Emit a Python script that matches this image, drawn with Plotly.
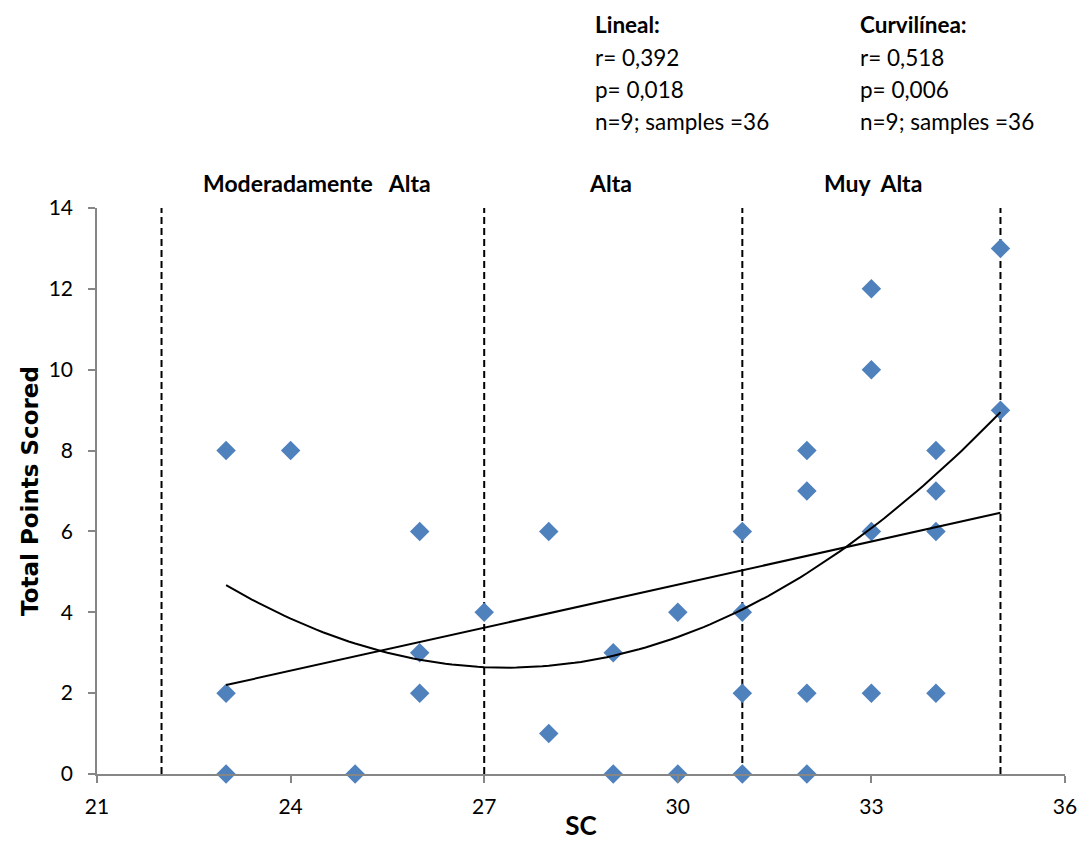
import numpy as np
import plotly.graph_objects as go

# Data
sc_values = [23, 23, 23, 24, 25, 26, 26, 26, 27, 28, 28, 29, 29, 30, 30,
             31, 31, 31, 31, 32, 32, 32, 32, 33, 33, 33, 33, 34, 34, 34, 34, 35, 35]
points_values = [8, 2, 0, 8, 0, 6, 3, 2, 4, 6, 1, 3, 0, 4, 0,
                 6, 4, 2, 0, 8, 7, 2, 0, 12, 10, 6, 2, 8, 7, 6, 2, 13, 9]

zone_bounds = [22, 27, 31, 35]
zone_labels = ["Moderadamente   Alta", "Alta", "Muy  Alta"]
zone_label_x = [24.41, 28.95, 33.02]

# Trend line parameters
linear_ends_x = [23, 35]
linear_ends_y = [2.2, 6.46]
quad_vertex_x = 27.35
quad_vertex_y = 2.63
quad_a = 0.108

lineal_text = ["<b>Lineal:</b>", "r= 0,392", "p= 0,018", "n=9; samples =36"]
curv_text = ["<b>Curvilínea:</b>", "r= 0,518", "p= 0,006", "n=9; samples =36"]

FONT = "Lato"
fig = go.Figure()

for b in zone_bounds:
    fig.add_trace(go.Scatter(x=[b, b], y=[0, 14], mode="lines",
                             line=dict(color="black", width=2, dash="7px,4px"),
                             showlegend=False, hoverinfo="skip"))

fig.add_trace(go.Scatter(x=sc_values, y=points_values, mode="markers",
                         marker=dict(symbol="diamond", size=15, color="#4F81BD"),
                         cliponaxis=False, showlegend=False))

fig.add_trace(go.Scatter(x=linear_ends_x, y=linear_ends_y, mode="lines",
                         line=dict(color="black", width=2), showlegend=False))

qx = np.linspace(linear_ends_x[0], linear_ends_x[1], 121)
qy = quad_vertex_y + quad_a * (qx - quad_vertex_x) ** 2
fig.add_trace(go.Scatter(x=qx, y=qy, mode="lines",
                         line=dict(color="black", width=2), showlegend=False))

PLOT_H = 566.0
TOP_PIX = 774.0
annotations = []
for col_x, lines in ((593, lineal_text), (858, curv_text)):
    for i, t in enumerate(lines):
        py = 25 + i * 32.3
        annotations.append(dict(text=t, xref="paper", yref="paper",
                                x=(col_x - 97) / 968.0, y=(TOP_PIX - py) / PLOT_H,
                                xanchor="left", yanchor="middle", showarrow=False,
                                font=dict(family=FONT, size=22.5, color="black")))
for lx, lt in zip(zone_label_x, zone_labels):
    annotations.append(dict(text="<b>" + lt.replace(" ", "&nbsp;") + "</b>", xref="x", yref="paper",
                            x=lx, y=(TOP_PIX - 183) / PLOT_H,
                            xanchor="center", yanchor="middle", showarrow=False,
                            font=dict(family=FONT, size=23, color="black")))

fig.update_layout(
    width=1080, height=865,
    margin=dict(l=97, r=15, t=208, b=91),
    paper_bgcolor="white", plot_bgcolor="white",
    font=dict(family=FONT, size=21, color="black"),
    annotations=annotations,
    xaxis=dict(range=[21, 36], tick0=21, dtick=3, showgrid=False, zeroline=False,
               showline=True, linecolor="#868686", linewidth=1.5,
               ticks="outside", ticklen=7, tickcolor="#868686", tickwidth=1.5,
               ticklabelstandoff=6, automargin=False,
               tickfont=dict(family=FONT, size=21),
               title=dict(text="<b>SC</b>", font=dict(family=FONT, size=26), standoff=0)),
    yaxis=dict(range=[0, 14], tick0=0, dtick=2, showgrid=False, zeroline=False,
               showline=True, linecolor="#868686", linewidth=1.5,
               ticks="outside", ticklen=7, tickcolor="#868686", tickwidth=1.5,
               ticklabelstandoff=11, automargin=False,
               tickfont=dict(family=FONT, size=21),
               title=dict(text="<b>Total Points Scored</b>",
                          font=dict(family="DejaVu Sans", size=23), standoff=4)),
)

fig.write_html("out.html")
